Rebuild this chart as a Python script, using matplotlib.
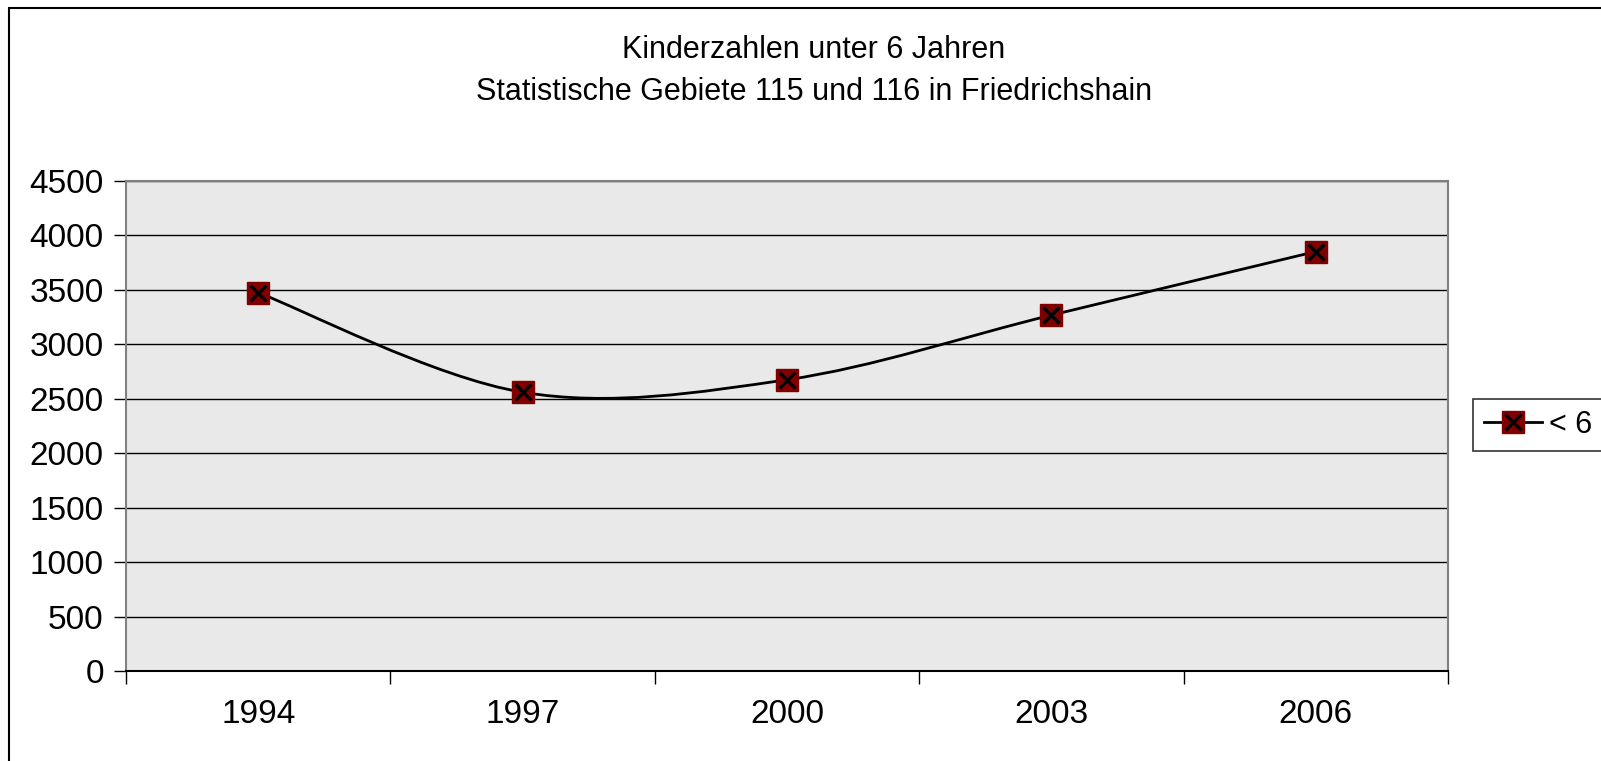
import matplotlib.pyplot as plt
from matplotlib.path import Path
from matplotlib.patches import PathPatch, Rectangle
from matplotlib.lines import Line2D
import numpy as np

plt.rcParams['font.family'] = ['Liberation Sans', 'DejaVu Sans']

# data
years = ['1994', '1997', '2000', '2003', '2006']
kinder = [3475, 2560, 2675, 3268, 3852]
series_name = '< 6'
title = 'Kinderzahlen unter 6 Jahren\nStatistische Gebiete 115 und 116 in Friedrichshain'

fig = plt.figure(figsize=(16.01, 7.61), dpi=100)
ax = fig.add_axes([126/1601, 90/761, (1448-126)/1601, (671-181)/761])
ax.set_facecolor('#e9e9e9')

x = np.arange(len(years))
y = np.array(kinder, dtype=float)

# excel style smoothed line (bezier segments through the points)
verts = [(x[0], y[0])]
codes = [Path.MOVETO]
n = len(x)
for i in range(n-1):
    p0 = np.array([x[max(i-1, 0)], y[max(i-1, 0)]])
    p1 = np.array([x[i], y[i]])
    p2 = np.array([x[i+1], y[i+1]])
    p3 = np.array([x[min(i+2, n-1)], y[min(i+2, n-1)]])
    c1 = p1 + (p2 - p0)/6
    c2 = p2 - (p3 - p1)/6
    verts += [tuple(c1), tuple(c2), tuple(p2)]
    codes += [Path.CURVE4]*3
ax.add_patch(PathPatch(Path(verts, codes), fill=False, edgecolor='black', lw=2, zorder=3))

ax.plot(x, y, 's', ms=16, mfc='#800000', mec='#800000', zorder=4)
ax.plot(x, y, 'x', ms=12, mew=2.4, color='black', zorder=5)

ax.set_xlim(-0.5, len(years)-0.5)
ax.set_ylim(0, 4500)
ax.set_yticks(np.arange(0, 4501, 500))
ax.yaxis.grid(True, color='black', lw=1)
ax.set_axisbelow(True)

ax.set_xticks(np.arange(-0.5, len(years)), minor=False)
ax.set_xticklabels([])
ax.set_xticks(x, minor=True)
ax.set_xticklabels(years, minor=True)
ax.tick_params(axis='x', which='major', length=9, width=1, direction='out')
ax.tick_params(axis='x', which='minor', length=0, pad=20, labelsize=24)
ax.tick_params(axis='y', length=9, width=1, direction='out', labelsize=24, pad=7)

for s in ['top', 'right', 'left']:
    ax.spines[s].set_color('#808080')
    ax.spines[s].set_linewidth(1.5)
ax.spines['bottom'].set_color('black')
ax.spines['bottom'].set_linewidth(1.5)

fig.text(814/1601, 1-71/761, title, ha='center', va='center', fontsize=22, linespacing=1.5)

# legend
h1 = Line2D([], [], color='black', lw=2, marker='s', ms=16, mfc='#800000', mec='#800000')
h2 = Line2D([], [], ls='none', marker='x', ms=12, mew=2.4, color='black')
leg = fig.legend([(h1, h2)], [series_name], loc='center left',
                 bbox_to_anchor=(1473/1601, 1-425/761), fontsize=22, frameon=True,
                 fancybox=False, edgecolor='black', handlelength=1.9, handletextpad=0.25,
                 borderpad=0.35, borderaxespad=0)
leg.get_frame().set_linewidth(1.2)

# outer chart border (cut off on the right and bottom)
fig.patches.append(Rectangle((9/1601, -0.2), 1.5, 1-8/761+0.2, transform=fig.transFigure,
                             fill=False, edgecolor='black', lw=1.5))

fig.savefig('out.png', dpi=100)
